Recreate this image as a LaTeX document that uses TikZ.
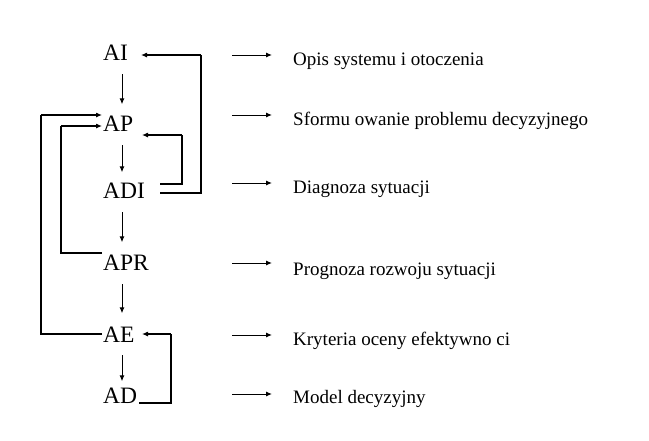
\documentclass[tikz,border=0pt]{standalone}
\usepackage{fontspec}
\setmainfont{Liberation Serif}
\usetikzlibrary{arrows.meta}
\begin{document}
\begin{tikzpicture}[x=1pt,y=-1pt,
  lab/.style={inner sep=0pt, anchor=base west, font=\fontsize{23.5}{23.5}\selectfont},
  desc/.style={inner sep=0pt, anchor=base west, font=\fontsize{19}{19}\selectfont},
  arr/.style={line width=1pt, -{Latex[length=6pt,width=5pt]}},
  thick line/.style={line width=2pt},
  tip line/.style={line width=1.1pt, -{Latex[length=6pt,width=5pt]}}]
\path[use as bounding box, fill=white] (0,0) rectangle (649,440);
% left labels
\node[lab] (AI)  at (103,60)  {AI};
\node[lab] (AP)  at (103,131) {AP};
\node[lab] (ADI) at (103,198) {ADI};
\node[lab] (APR) at (103,270) {APR};
\node[lab] (AE)  at (103,342) {AE};
\node[lab] (AD)  at (103,403) {AD};
% right descriptions
\node[desc] (T1) at (293,65)  {Opis systemu i otoczenia};
\node[desc] (T2) at (293,125) {Sformu owanie problemu decyzyjnego};
\node[desc] (T3) at (293,193) {Diagnoza sytuacji};
\node[desc] (T4) at (293,275) {Prognoza rozwoju sytuacji};
\node[desc] (T5) at (293,345) {Kryteria oceny efektywno ci};
\node[desc] (T6) at (293,403) {Model decyzyjny};
% column of down arrows
\coordinate (col) at (122,0);
\draw[arr] ([yshift=-14pt]AI.south -| col)  -- ([yshift=11pt]AP.north -| col);
\draw[arr] ([yshift=-14pt]AP.south -| col)  -- ([yshift=10pt]ADI.north -| col);
\draw[arr] ([yshift=-14pt]ADI.south -| col) -- ([yshift=12pt]APR.north -| col);
\draw[arr] ([yshift=-14pt]APR.south -| col) -- ([yshift=13pt]AE.north -| col);
\draw[arr] ([yshift=-13pt]AE.south -| col)  -- ([yshift=6pt]AD.north -| col);
% right arrows
\coordinate (c1) at (232,55);
\coordinate (c2) at (232,115);
\coordinate (c3) at (232,183);
\coordinate (c4) at (232,263);
\coordinate (c5) at (232,335);
\coordinate (c6) at (232,394);
\foreach \i in {1,...,6}{
  \draw[arr, shorten >=21pt] (c\i) -- (c\i -| T\i.west);
}
% feedback loops
\coordinate (kA) at (201,55);
\coordinate (kB) at (182,135);
\coordinate (kC) at (61,126);
\coordinate (kD) at (41,115);
\coordinate (kE) at (171,334);
% ADI -> AI
\draw[thick line] ([shift={(57pt,5pt)}]ADI.base west) -| (kA);
\draw[tip line] (kA) -- ([shift={(38pt,5pt)}]AI.base west);
% ADI -> AP
\draw[thick line] ([shift={(57pt,14pt)}]ADI.base west) -| (kB);
\draw[tip line] (kB) -- ([shift={(39pt,-4pt)}]AP.base west);
% APR -> AP
\draw[thick line] ([shift={(-1pt,17pt)}]APR.base west) -| (kC);
\draw[tip line] (kC) -- ([shift={(-1pt,5pt)}]AP.base west);
% AE -> AP
\draw[thick line] ([shift={(-1pt,8pt)}]AE.base west) -| (kD);
\draw[tip line] (kD) -- ([shift={(-1pt,16pt)}]AP.base west);
% AD -> AE
\draw[thick line] ([shift={(36pt,0pt)}]AD.base west) -| (kE);
\draw[tip line] (kE) -- ([shift={(39pt,8pt)}]AE.base west);
\end{tikzpicture}
\end{document}
